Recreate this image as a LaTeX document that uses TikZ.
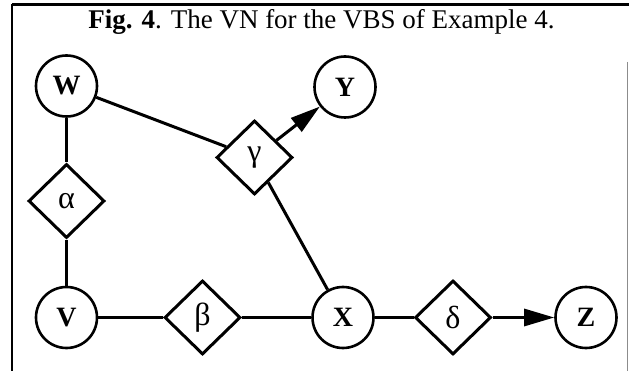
\documentclass[tikz,border=0pt]{standalone}
\usepackage{fontspec}
\setmainfont{Liberation Serif}
\usetikzlibrary{shapes.geometric,arrows.meta}

\tikzset{
  var/.style={circle, draw, line width=2.6pt, minimum size=61pt, inner sep=0pt,
              font=\fontsize{28}{28}\selectfont\bfseries},
  fac/.style={diamond, draw, line width=3pt, minimum width=76pt, minimum height=74pt,
              inner sep=0pt, font=\fontsize{32}{32}\selectfont},
  link/.style={line width=3pt},
  flow/.style={line width=3pt, -{Triangle[length=30pt,width=17pt]}},
}

\begin{document}
\begin{tikzpicture}[x=1pt, y=-1pt]
  \useasboundingbox (0,0) rectangle (629,371);

  % frame
  \draw[line width=3pt] (12,4.5) -- (629,4.5);
  \draw[line width=2.2pt] (12,4.5) -- (12,371);
  \draw[line width=0.8pt, black!45] (627.5,62) -- (627.5,371);

  % caption
  \node[anchor=base, font=\fontsize{27}{27}\selectfont] (cap) at (321.5,29)
    {\textbf{Fig. 4}. The VN for the VBS of Example 4.};

  % variables
  \node[var] (W) at (66.5,86)    {W};
  \node[var] (V) at (66.5,317.5) {V};
  \node[var] (Y) at (345,87)     {Y};
  \node[var] (X) at (343,317.5)  {X};
  \node[var] (Z) at (586,317.5)  {Z};

  % factors
  \node[fac] (a) at (66.5,201)    {α};
  \node[fac] (b) at (202.5,317.5) {β};
  \node[fac] (g) at (254.5,157.5) {γ};
  \node[fac] (d) at (453,317.5)   {δ};

  % connectors
  \draw[link] (W) -- (a);
  \draw[link] (a) -- (V);
  \draw[link] (V) -- (b);
  \draw[link] (b) -- (X);
  \draw[link] (W) -- (g);
  \draw[link] (g) -- (X);
  \draw[link] (X) -- (d);
  \draw[flow] (g) -- (Y);
  \draw[flow] (d) -- (Z);
\end{tikzpicture}
\end{document}
